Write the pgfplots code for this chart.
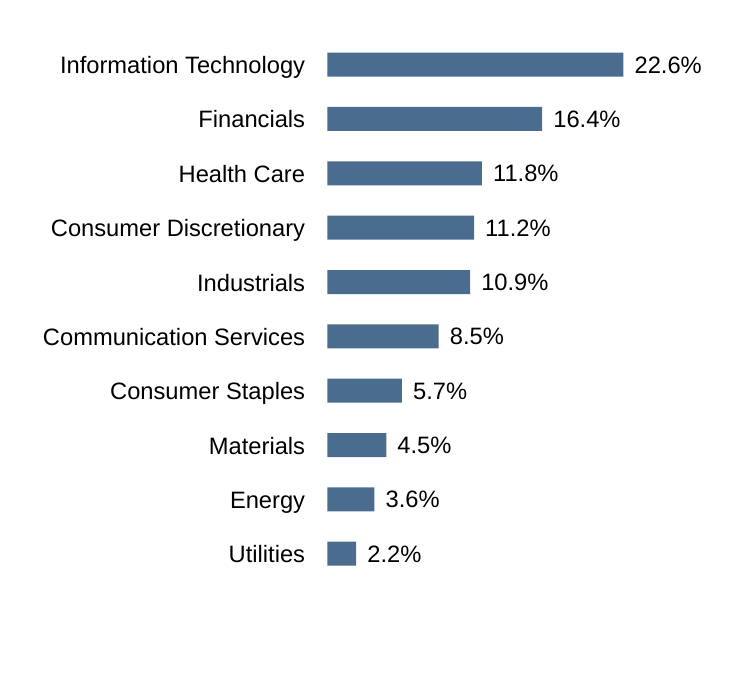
\documentclass[border=0pt]{standalone}
\usepackage{pgfplots}
\pgfplotsset{compat=1.18}
\usepackage{fontspec}
\setmainfont{Liberation Sans}
\definecolor{barblue}{RGB}{74,108,143}
\begin{document}
\begin{tikzpicture}[x=1bp,y=1bp]
\useasboundingbox (0,0) rectangle (732,696);
\begin{axis}[
  at={(327.3bp,115.1bp)}, anchor=south west,
  scale only axis, width=393bp, height=543.4bp,
  xbar, bar width=24bp,
  xmin=0, xmax=30, ymin=-0.5, ymax=9.5,
  axis line style={draw=none}, hide x axis,
  ytick={0,...,9},
  yticklabels={Utilities,Energy,Materials,Consumer Staples,Communication Services,Industrials,Consumer Discretionary,Health Care,Financials,Information Technology},
  major tick length=0pt,
  /pgf/number format/assume math mode=true,
  yticklabel style={font=\fontsize{23.7bp}{26bp}\selectfont, inner sep=0pt, anchor=base east, xshift=-22bp, yshift=-9bp},
  nodes near coords={\pgfmathprintnumber[fixed,precision=1,fixed zerofill,assume math mode=true]{\pgfplotspointmeta}\%},
  nodes near coords style={font=\fontsize{23.7bp}{26bp}\selectfont, anchor=base west, inner sep=0pt, xshift=11bp, yshift=-8.5bp},
  point meta=explicit,
]
\addplot[fill=barblue, draw=none] table[x=v, y=i, meta=v] {
i v
0 2.2
1 3.6
2 4.5
3 5.7
4 8.5
5 10.9
6 11.2
7 11.8
8 16.4
9 22.6
};
\end{axis}
\end{tikzpicture}
\end{document}
